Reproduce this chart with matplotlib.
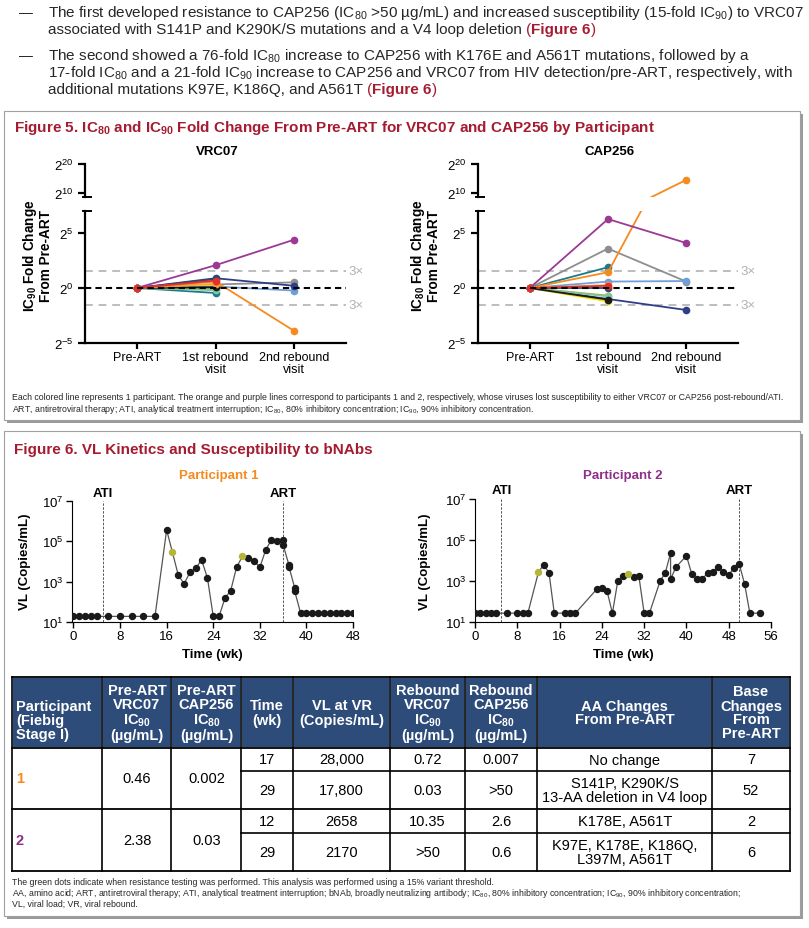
import numpy as np
import matplotlib
matplotlib.use("Agg")
import matplotlib.pyplot as plt
from matplotlib.patches import Rectangle
from matplotlib.ticker import NullLocator, FixedLocator

plt.rcParams['font.family'] = ['Liberation Sans', 'DejaVu Sans']
plt.rcParams['mathtext.fontset'] = 'custom'
plt.rcParams['mathtext.rm'] = 'Liberation Sans'
plt.rcParams['mathtext.it'] = 'Liberation Sans:italic'
plt.rcParams['mathtext.bf'] = 'Liberation Sans:bold'

W, H = 809, 929
ROJO = '#a51c30'
TEXTO = '#262626'

# ---------------- datos figura 5 (fold change desde pre-ART) ----------------
visitas = ['Pre-ART', '1st rebound\nvisit', '2nd rebound\nvisit']
colores = ['#8e8e8e', '#6f9fd8', '#2e3f87', '#1d7a8a', '#f2e300', '#a9b43a',
           '#82c4a0', '#1a1a1a', '#f6a04d', '#2b4a6a', '#f58a1f', '#9b3a95', '#e2312d']
nan = np.nan
vrc07_fold = [[1, 1.25, 1.43], [1, 1.1, 0.85], [1, 1.85, 1.15], [1, 0.73, nan],
              [1, 1.25, nan], [1, 0.93, nan], [1, 0.87, nan], [1, 1.05, nan],
              [1, 1.3, nan], [1, 1.75, nan], [1, 1.5, 0.067], [1, 4.2, 21],
              [1, 1.6, nan]]
cap256_fold = [[1, 12, 1.5], [1, 1.5, 1.55], [1, 0.5, 0.25], [1, 3.7, nan],
               [1, 0.43, nan], [1, 0.62, nan], [1, 0.59, nan], [1, 0.48, nan],
               [1, 1.2, nan], [1, 1.0, nan], [1, 2.7, 25000], [1, 77, 17],
               [1, 1.15, nan]]

# ---------------- datos figura 6 (carga viral) ----------------
p1_wk = [0, 1, 2, 3, 4, 6, 8, 10, 12, 14, 16, 17, 18, 19, 20, 21, 22, 23, 24, 25,
         26, 27, 28, 29, 30, 31, 32, 33, 34, 35, 36, 36, 37, 37, 38, 38,
         39, 40, 41, 42, 43, 44, 45, 46, 47, 48]
p1_vl = [19, 19, 19, 19, 19, 19, 19, 19, 19, 19, 370000, 28000, 2100, 780, 2900,
         4600, 12000, 1550, 19, 19, 150, 360, 5100, 17800, 14500, 11000, 5100,
         37000, 120000, 107000, 120000, 68000, 6700, 5600, 480, 330,
         28, 28, 28, 28, 28, 28, 28, 28, 28, 28]
p1_test = [17, 29]
p1_ati, p1_art = 5, 36

p2_wk = [0, 1, 2, 3, 4, 6, 8, 9, 10, 12, 13, 14, 15, 17, 18, 19, 23, 24, 25, 26,
         27, 28, 29, 30, 31, 32, 33, 35, 36, 37, 37, 38, 40, 41, 42, 43, 44, 45,
         46, 47, 48, 49, 50, 51, 52, 54]
p2_vl = [27, 27, 27, 27, 27, 27, 27, 27, 27, 2658, 6300, 2500, 27, 27, 27, 27,
         390, 450, 310, 27, 960, 1740, 2170, 1550, 1740, 27, 27, 960, 2500, 23000,
         1200, 4700, 17000, 2240, 1280, 1280, 2400, 2700, 4700, 2700, 2000, 4300,
         6600, 720, 27, 27]
p2_test = [12, 29]
p2_ati, p2_art = 5, 50

# ---------------- datos tabla ----------------
encabezados = ['Participant\n(Fiebig\nStage I)', 'Pre-ART\nVRC07\nIC$_{\\mathbf{90}}$\n(µg/mL)',
               'Pre-ART\nCAP256\nIC$_{\\mathbf{80}}$\n(µg/mL)', 'Time\n(wk)', 'VL at VR\n(Copies/mL)',
               'Rebound\nVRC07\nIC$_{\\mathbf{90}}$\n(µg/mL)', 'Rebound\nCAP256\nIC$_{\\mathbf{80}}$\n(µg/mL)',
               'AA Changes\nFrom Pre-ART', 'Base\nChanges\nFrom\nPre-ART']
participantes = ['1', '2']
pre_vrc07 = ['0.46', '2.38']
pre_cap256 = ['0.002', '0.03']
tiempo = ['17', '29', '12', '29']
vl_vr = ['28,000', '17,800', '2658', '2170']
reb_vrc07 = ['0.72', '0.03', '10.35', '>50']
reb_cap256 = ['0.007', '>50', '2.6', '0.6']
cambios_aa = ['No change', 'S141P, K290K/S\n13-AA deletion in V4 loop', 'K178E, A561T',
              'K97E, K178E, K186Q,\nL397M, A561T']
cambios_base = ['7', '52', '2', '6']
color_part = ['#f58a1f', '#8e2f8c']

fig = plt.figure(figsize=(W / 100, H / 100), dpi=100)
ov = fig.add_axes([0, 0, 1, 1])
ov.set_xlim(0, W)
ov.set_ylim(H, 0)
ov.axis('off')
rend = fig.canvas.get_renderer()


def ejes(l, t, r, b):
    return fig.add_axes([l / W, 1 - b / H, (r - l) / W, (b - t) / H], facecolor='none')


def linea_rica(x, y, piezas, size):
    for txt, color, peso in piezas:
        if txt == ' ':
            x += size * 0.38
            continue
        t = ov.text(x, y, txt, color=color, fontweight=peso, fontsize=size, va='center', ha='left')
        x += t.get_window_extent(renderer=rend).width


def caja(l, t, r, b):
    ov.add_patch(Rectangle((l + 3, t + 3), r - l, b - t, facecolor='#9a9a9a', edgecolor='none', zorder=0))
    ov.add_patch(Rectangle((l, t), r - l, b - t, facecolor='white', edgecolor='#a0a0a0', lw=0.8, zorder=1))


# ---------------- texto superior ----------------
fs = 11
for yy in (13, 56):
    ov.text(19, yy, '—', fontsize=10, va='center', color=TEXTO)
linea_rica(48, 13, [('The first developed resistance to CAP256 (IC$_{80}$ >50 µg/mL) and increased susceptibility (15-fold IC$_{90}$) to VRC07', TEXTO, 'normal')], fs)
linea_rica(48, 30, [('associated with S141P and K290K/S mutations and a V4 loop deletion', TEXTO, 'normal'), (' ', 0, 0),
                    ('(', ROJO, 'normal'), ('Figure 6', ROJO, 'bold'), (')', ROJO, 'normal')], fs)
linea_rica(48, 56, [('The second showed a 76-fold IC$_{80}$ increase to CAP256 with K176E and A561T mutations, followed by a', TEXTO, 'normal')], fs)
linea_rica(48, 73, [('17-fold IC$_{80}$ and a 21-fold IC$_{90}$ increase to CAP256 and VRC07 from HIV detection/pre-ART, respectively, with', TEXTO, 'normal')], fs)
linea_rica(48, 90, [('additional mutations K97E, K186Q, and A561T', TEXTO, 'normal'), (' ', 0, 0),
                    ('(', ROJO, 'normal'), ('Figure 6', ROJO, 'bold'), (')', ROJO, 'normal')], fs)

# ---------------- figura 5 ----------------
caja(4, 112, 800, 421)
ov.text(14, 128, 'Figure 5. IC$_{\\mathbf{80}}$ and IC$_{\\mathbf{90}}$ Fold Change From Pre-ART for VRC07 and CAP256 by Participant',
        fontsize=11, fontweight='bold', color=ROJO, va='center')
ov.text(12, 398, 'Each colored line represents 1 participant. The orange and purple lines correspond to participants 1 and 2, '
        'respectively, whose viruses lost susceptibility to either VRC07 or CAP256 post-rebound/ATI.',
        fontsize=6.3, color=TEXTO, va='center')
ov.text(12, 409, 'ART, antiretroviral therapy; ATI, analytical treatment interruption; IC$_{80}$, 80% inhibitory concentration; '
        'IC$_{90}$, 90% inhibitory concentration.', fontsize=6.3, color=TEXTO, va='center')

paneles = [(85, 346, vrc07_fold, 'VRC07', 'IC$_{\\mathbf{90}}$ Fold Change\nFrom Pre-ART', 37),
           (478, 738, cap256_fold, 'CAP256', 'IC$_{\\mathbf{80}}$ Fold Change\nFrom Pre-ART', 425)]
xs = np.arange(len(visitas))
for l, r, datos, titulo, ylab, xlab in paneles:
    arriba = ejes(l, 165, r, 198)
    abajo = ejes(l, 212, r, 344)
    for ax in (arriba, abajo):
        for serie, c in zip(datos, colores):
            ax.plot(xs, serie, color=c, lw=1.3, marker='o', ms=4.5, zorder=2)
        ax.set_yscale('log', base=2)
        ax.set_xlim(-0.66, 2.66)
        for s in ('top', 'right'):
            ax.spines[s].set_visible(False)
        ax.spines['left'].set_linewidth(1.6)
        ax.spines['bottom'].set_linewidth(1.6)
        ax.tick_params(width=1.6, length=5, labelsize=9.5, color='black')
        ax.yaxis.set_minor_locator(NullLocator())
    arriba.set_ylim(2 ** 8.77, 2 ** 20)
    arriba.spines['bottom'].set_visible(False)
    arriba.set_xticks([])
    arriba.yaxis.set_major_locator(FixedLocator([2 ** 10, 2 ** 20]))
    arriba.set_yticklabels(['$2^{10}$', '$2^{20}$'])
    abajo.set_ylim(2 ** -5, 2 ** 7)
    abajo.yaxis.set_major_locator(FixedLocator([2 ** -5, 1, 2 ** 5]))
    abajo.set_yticklabels(['$2^{-5}$', '$2^{0}$', '$2^{5}$'])
    abajo.set_xticks(xs)
    abajo.set_xticklabels(visitas, fontsize=9, linespacing=1.0)
    abajo.tick_params(axis='x', length=4, pad=2)
    abajo.axhline(1, color='black', ls=(0, (3, 2)), lw=1.5, zorder=3)
    for v in (3, 1 / 3):
        abajo.axhline(v, color='#bdbdbd', ls=(0, (4, 3)), lw=1.4, zorder=1)
        abajo.text(1.01, v, '3×', transform=abajo.get_yaxis_transform(), fontsize=9.5,
                   color='#b0b0b0', va='center', clip_on=False)
    # marcas del eje cortado
    ov.plot([l - 2, l + 6], [198, 198], color='black', lw=1.4)
    ov.plot([l - 2, l + 6], [212, 212], color='black', lw=1.4)
    ov.text((l + r) / 2 + 2, 152, titulo, fontsize=9.5, fontweight='bold', ha='center', va='center')
    ov.text(xlab, 256, ylab, fontsize=9.8, fontweight='bold', rotation=90, ha='center', va='center',
            linespacing=0.95)

# ---------------- figura 6 ----------------
caja(4, 432, 800, 917)
ov.text(14, 450, 'Figure 6. VL Kinetics and Susceptibility to bNAbs', fontsize=11, fontweight='bold',
        color=ROJO, va='center')

vl_paneles = [(72, 502, 353, 623, p1_wk, p1_vl, p1_test, p1_ati, p1_art, (-0.25, 48), 8,
               'Participant 1', color_part[0], 25, 212, 219),
              (475, 500, 771, 623, p2_wk, p2_vl, p2_test, p2_ati, p2_art, (0, 56), 8,
               'Participant 2', color_part[1], 425, 623, 623)]
for l, t, r, b, wk, vl, prueba, ati, art, xl, paso, tit, ctit, xylab, xxlab, xtit in vl_paneles:
    ax = ejes(l, t, r, b)
    wk = np.array(wk)
    vl = np.array(vl)
    ax.plot(wk, vl, color='#555555', lw=0.9, zorder=2)
    verde = np.isin(wk, prueba)
    ax.plot(wk[~verde], vl[~verde], 'o', color='#1a1a1a', ms=4.3, zorder=3)
    ax.plot(wk[verde], vl[verde], 'o', color='#b5b53a', ms=4.3, zorder=3)
    ax.set_yscale('log')
    ax.set_ylim(10, 1e7)
    ax.set_xlim(*xl)
    ax.set_xticks(np.arange(0, xl[1] + 1, paso))
    ax.yaxis.set_major_locator(FixedLocator([10, 1e3, 1e5, 1e7]))
    ax.yaxis.set_minor_locator(NullLocator())
    ax.set_yticklabels(['$10^{1}$', '$10^{3}$', '$10^{5}$', '$10^{7}$'])
    for s in ('top', 'right'):
        ax.spines[s].set_visible(False)
    ax.tick_params(labelsize=9.5, length=4, width=1, pad=2)
    for xv, et in ((ati, 'ATI'), (art, 'ART')):
        ax.axvline(xv, color='#555555', ls=(0, (2.5, 1.5)), lw=0.7, zorder=1)
        ax.text(xv, 1.07, et, transform=ax.get_xaxis_transform(), fontsize=9.5,
                fontweight='bold', ha='center', va='center', clip_on=False)
    ov.text(xtit, 476, tit, fontsize=9.5, fontweight='bold', color=ctit, ha='center', va='center')
    ov.text(xylab, 562, 'VL (Copies/mL)', fontsize=9.5, fontweight='bold', rotation=90,
            ha='center', va='center')
    ov.text(xxlab, 655, 'Time (wk)', fontsize=9.5, fontweight='bold', ha='center', va='center')

# ---------------- tabla ----------------
cx = [12, 102.5, 171.5, 241.5, 293, 390, 465, 537.5, 712, 790]
ry = [678, 749, 772, 810, 834, 872]
AZUL = '#2d4c79'
for i, h in enumerate(encabezados):
    ov.add_patch(Rectangle((cx[i], ry[0]), cx[i + 1] - cx[i], ry[1] - ry[0], facecolor=AZUL,
                           edgecolor='white', lw=1.2, zorder=2))
    if i == 0:
        ov.text(cx[i] + 4, (ry[0] + ry[1]) / 2 + 8, h, color='white', fontsize=10.5, fontweight='bold',
                ha='left', va='center', linespacing=1.0, zorder=3)
    else:
        ov.text((cx[i] + cx[i + 1]) / 2, (ry[0] + ry[1]) / 2, h, color='white', fontsize=10.5,
                fontweight='bold', ha='center', va='center', linespacing=1.0, multialignment='center',
                zorder=3)
for xv in cx:
    ov.plot([xv, xv], [ry[0], ry[-1]], color='black', lw=1.2, zorder=4)
for yy in (ry[0], ry[1], ry[3], ry[5]):
    ov.plot([cx[0], cx[-1]], [yy, yy], color='black', lw=1.3, zorder=4)
for yy in (ry[2], ry[4]):
    ov.plot([cx[3], cx[-1]], [yy, yy], color='black', lw=1.2, zorder=4)

for k in range(2):
    ym = (ry[1 + 2 * k] + ry[3 + 2 * k]) / 2
    ov.text(cx[0] + 4, ym, participantes[k], color=color_part[k], fontsize=10.5, fontweight='bold',
            ha='left', va='center')
    ov.text((cx[1] + cx[2]) / 2, ym, pre_vrc07[k], fontsize=10.5, ha='center', va='center')
    ov.text((cx[2] + cx[3]) / 2, ym, pre_cap256[k], fontsize=10.5, ha='center', va='center')
for j in range(4):
    ym = (ry[1 + j] + ry[2 + j]) / 2
    fila = [tiempo[j], vl_vr[j], reb_vrc07[j], reb_cap256[j], cambios_aa[j], cambios_base[j]]
    for c, v in enumerate(fila):
        ov.text((cx[3 + c] + cx[4 + c]) / 2, ym, v, fontsize=10.5, ha='center', va='center',
                linespacing=1.0, multialignment='center')

notas = ['The green dots indicate when resistance testing was performed. This analysis was performed using a 15% variant threshold.',
         'AA, amino acid; ART, antiretroviral therapy; ATI, analytical treatment interruption; bNAb, broadly neutralizing antibody; '
         'IC$_{80}$, 80% inhibitory concentration; IC$_{90}$, 90% inhibitory concentration;',
         'VL, viral load; VR, viral rebound.']
for k, n in enumerate(notas):
    ov.text(12, 883 + 10.5 * k, n, fontsize=6.3, color=TEXTO, va='center')

fig.savefig('out.png', dpi=100)
